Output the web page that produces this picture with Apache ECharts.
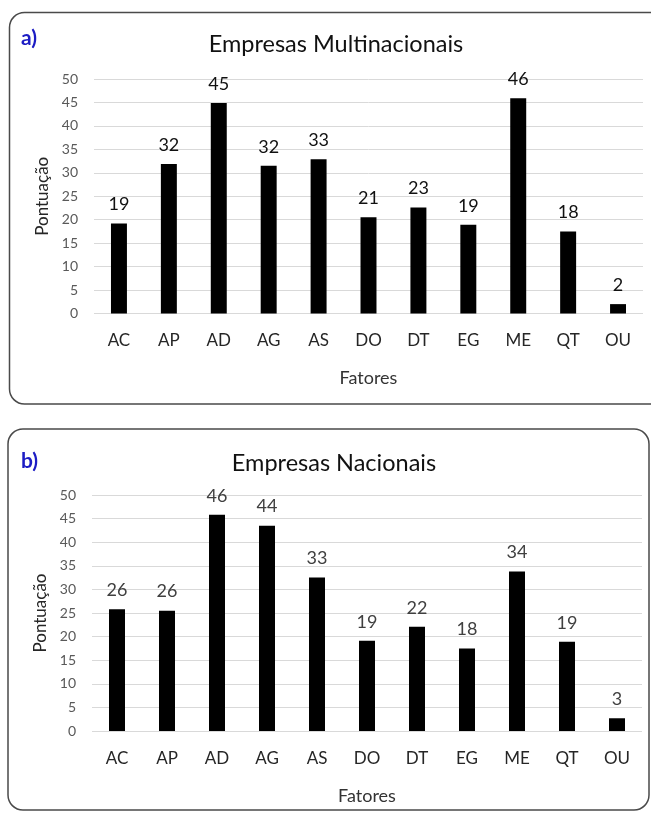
<!DOCTYPE html>
<html>
<head>
<meta charset="utf-8">
<script src="https://cdn.jsdelivr.net/npm/echarts@6/dist/echarts.min.js"></script>
<style>
  html, body { margin: 0; padding: 0; background: #fff; }
  #chart { width: 651px; height: 814px; }
</style>
</head>
<body>
<div id="chart"></div>
<script>
const categories = ['AC', 'AP', 'AD', 'AG', 'AS', 'DO', 'DT', 'EG', 'ME', 'QT', 'OU'];
const multinacionais = [19.2, 31.9, 44.9, 31.5, 32.9, 20.5, 22.6, 18.9, 45.9, 17.5, 2.0];
const nacionais = [25.8, 25.5, 45.8, 43.5, 32.5, 19.1, 22.1, 17.5, 33.8, 18.9, 2.7];
const yTicks = { min: 0, max: 50, interval: 5 };
const titleA = 'Empresas Multinacionais';
const titleB = 'Empresas Nacionais';
const yName = 'Pontuação';
const xName = 'Fatores';

const FONT = 'Lato, "Open Sans", sans-serif';
const chart = echarts.init(document.getElementById('chart'), null, { renderer: 'canvas' });

function xAxisCfg(gridIndex) {
  return {
    type: 'category', gridIndex, data: categories,
    axisLine: { show: false }, axisTick: { show: false },
    axisLabel: { color: '#262626', fontSize: 17, fontFamily: FONT, margin: 19 },
    name: xName, nameLocation: 'middle', nameGap: 56,
    nameTextStyle: { color: '#333', fontSize: 18, fontFamily: FONT }
  };
}
function yAxisCfg(gridIndex) {
  return {
    type: 'value', gridIndex, min: yTicks.min, max: yTicks.max, interval: yTicks.interval,
    axisLine: { show: false }, axisTick: { show: false },
    axisLabel: { color: '#595959', fontSize: 14, fontFamily: FONT, margin: 16 },
    splitLine: { lineStyle: { color: '#d9d9d9', width: 1 } },
    name: yName, nameLocation: 'middle', nameGap: 40,
    nameTextStyle: { color: '#262626', fontSize: 17, fontFamily: FONT }
  };
}
function seriesCfg(i, data, labelColor) {
  return {
    type: 'bar', xAxisIndex: i, yAxisIndex: i, data,
    barWidth: '32%',
    itemStyle: { color: '#000' },
    label: {
      show: true, position: 'top', distance: 10,
      color: labelColor, fontSize: 18, fontFamily: FONT,
      formatter: p => String(Math.round(p.value))
    }
  };
}

chart.setOption({
  animation: false,
  backgroundColor: '#fff',
  grid: [
    { left: 94, right: 8, top: 79, bottom: 814 - 313.5 },
    { left: 92, right: 9, top: 495, bottom: 814 - 731 }
  ],
  xAxis: [xAxisCfg(0), xAxisCfg(1)],
  yAxis: [yAxisCfg(0), yAxisCfg(1)],
  series: [seriesCfg(0, multinacionais, '#111'), seriesCfg(1, nacionais, '#404040')],
  graphic: [
    { type: 'rect', shape: { x: 9.5, y: 12.5, width: 660, height: 391.5, r: 15 },
      style: { fill: 'none', stroke: '#4a4a4a', lineWidth: 1.5 }, silent: true, z: -1 },
    { type: 'rect', shape: { x: 8, y: 429, width: 641, height: 381, r: 15 },
      style: { fill: 'none', stroke: '#4a4a4a', lineWidth: 1.5 }, silent: true, z: -1 },
    { type: 'text', x: 21, y: 38, style: { text: 'a)', fill: '#1c1cc4', font: 'bold 21px ' + FONT, textVerticalAlign: 'middle' } },
    { type: 'text', x: 21, y: 461, style: { text: 'b)', fill: '#1c1cc4', font: 'bold 21px ' + FONT, textVerticalAlign: 'middle' } },
    { type: 'text', x: 336, y: 44, style: { text: titleA, fill: '#111', font: '23.5px ' + FONT, textAlign: 'center', textVerticalAlign: 'middle' } },
    { type: 'text', x: 334, y: 463, style: { text: titleB, fill: '#111', font: '23.5px ' + FONT, textAlign: 'center', textVerticalAlign: 'middle' } }
  ]
});
</script>
</body>
</html>
